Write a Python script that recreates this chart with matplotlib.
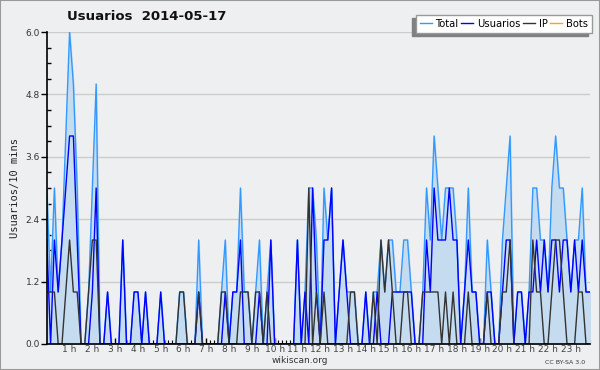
import matplotlib
matplotlib.use('agg')
import matplotlib.pyplot as plt
from matplotlib.patches import Rectangle
from matplotlib.ticker import MultipleLocator, FixedLocator, FixedFormatter

# 10-minute buckets for 2014-05-17 (144 points)
usuarios = [2, 0, 2, 1, 2, 3, 4, 4, 2, 0, 0, 0, 1, 3, 0, 0, 1, 0, 0, 0,
            2, 0, 0, 1, 1, 0, 1, 0, 0, 0, 1, 0, 0, 0, 0, 0, 0, 0, 0, 0,
            1, 0, 0, 0, 0, 0, 0, 1, 0, 1, 1, 2, 0, 0, 0, 0, 1, 0, 0, 2,
            0, 0, 0, 0, 0, 0, 2, 0, 1, 0, 3, 1, 0, 2, 2, 3, 0, 1, 2, 1,
            0, 0, 0, 0, 1, 0, 0, 1, 0, 0, 0, 1, 1, 1, 1, 1, 1, 0, 0, 0,
            2, 1, 3, 2, 2, 2, 3, 2, 2, 0, 1, 2, 1, 1, 0, 0, 1, 1, 0, 0,
            1, 2, 2, 0, 1, 1, 0, 1, 1, 2, 1, 2, 1, 2, 2, 1, 2, 2, 1, 2,
            1, 2, 1, 1]
ip = [1, 1, 1, 0, 0, 1, 2, 1, 1, 0, 0, 1, 2, 2, 0, 0, 0, 0, 0, 0,
      0, 0, 0, 0, 0, 0, 0, 0, 0, 0, 0, 0, 0, 0, 0, 1, 1, 0, 0, 0,
      1, 0, 0, 0, 0, 0, 1, 1, 0, 0, 0, 1, 1, 1, 0, 1, 1, 0, 1, 0,
      0, 0, 0, 0, 0, 0, 0, 0, 0, 3, 0, 1, 0, 1, 0, 0, 0, 0, 0, 0,
      1, 1, 0, 0, 0, 0, 1, 0, 2, 1, 2, 1, 0, 0, 1, 1, 0, 0, 0, 1,
      1, 1, 1, 1, 0, 1, 0, 1, 0, 0, 0, 1, 0, 0, 0, 0, 1, 0, 0, 0,
      1, 1, 2, 0, 0, 0, 0, 0, 2, 1, 1, 0, 0, 1, 2, 2, 1, 0, 0, 0,
      1, 1, 0, 0]
bots = [0] * 144
total = [u + i + b for u, i, b in zip(usuarios, ip, bots)]
hour_labels = ['%d h' % h for h in range(1, 24)]

x = list(range(len(total)))

fig = plt.figure(figsize=(6, 3.7), dpi=100, facecolor='#eeeff0')
ax = fig.add_axes([0.078, 0.0703, 0.905, 0.8432])
ax.set_facecolor('#eeeff0')

ax.fill_between(x, total, color='#c5dcf0', zorder=1)
ax.plot(x, total, color='#3399ff', lw=1.0, zorder=3, label='Total')
ax.plot(x, usuarios, color='#0000ff', lw=1.0, zorder=4, label='Usuarios')
ax.plot(x, ip, color='#333333', lw=1.0, zorder=5, label='IP')
ax.plot(x, bots, color='#ffa500', lw=1.0, zorder=2, label='Bots')

ax.set_xlim(0, 143)
ax.set_ylim(0, 6.0)

ax.yaxis.set_major_locator(MultipleLocator(1.2))
ax.yaxis.set_minor_locator(MultipleLocator(0.3))
ax.yaxis.set_major_formatter(matplotlib.ticker.FormatStrFormatter('%.1f'))
ax.grid(axis='y', color='#cccccc', lw=1.0, zorder=0)
ax.set_axisbelow(True)

ax.xaxis.set_major_locator(FixedLocator([6 * h for h in range(1, 24)]))
ax.xaxis.set_major_formatter(FixedFormatter(hour_labels))
ax.xaxis.set_minor_locator(MultipleLocator(1))

for side in ['top', 'right']:
    ax.spines[side].set_visible(False)
for side in ['left', 'bottom']:
    ax.spines[side].set_color('black')
    ax.spines[side].set_linewidth(1.2)
    ax.spines[side].set_zorder(6)

ax.tick_params(axis='y', which='major', direction='out', length=4, width=1,
               labelsize=6.5, pad=1, colors='black', labelcolor='#333333')
ax.tick_params(axis='y', which='minor', direction='in', length=3, width=1)
ax.tick_params(axis='x', which='major', direction='in', length=4, width=1,
               labelsize=6.5, pad=1, labelcolor='#444444')
ax.tick_params(axis='x', which='minor', direction='in', length=3, width=0.8)

ax.set_ylabel('Usuarios/10 mins', family='DejaVu Sans Mono', fontsize=7.5,
              color='#222222', labelpad=4)

fig.text(0.245, 0.955, 'Usuarios  2014-05-17', ha='center', va='center',
         fontsize=9.5, fontweight='bold', color='#111111')
fig.text(0.5, 0.025, 'wikiscan.org', ha='center', va='center',
         fontsize=6.5, color='#333333')
fig.text(0.975, 0.02, 'CC BY-SA 3.0', ha='right', va='center',
         fontsize=4.5, color='#333333')

leg = ax.legend(loc='upper right', bbox_to_anchor=(1.004, 1.055), ncol=4,
                fontsize=7.2, frameon=True, fancybox=False,
                shadow={'ox': -2.5, 'oy': -2.5, 'color': '#808080', 'alpha': 1},
                handlelength=1.2, handletextpad=0.35, columnspacing=0.3,
                borderpad=0.4, borderaxespad=0)
leg.get_frame().set_edgecolor('#999999')
leg.get_frame().set_facecolor('white')
leg.get_frame().set_linewidth(1)
leg.set_zorder(10)

fig.patches.append(Rectangle((0, 0), 1, 1, transform=fig.transFigure,
                             fill=False, edgecolor='#999999', lw=1.5))

fig.savefig('out.png', dpi=100, facecolor=fig.get_facecolor())
